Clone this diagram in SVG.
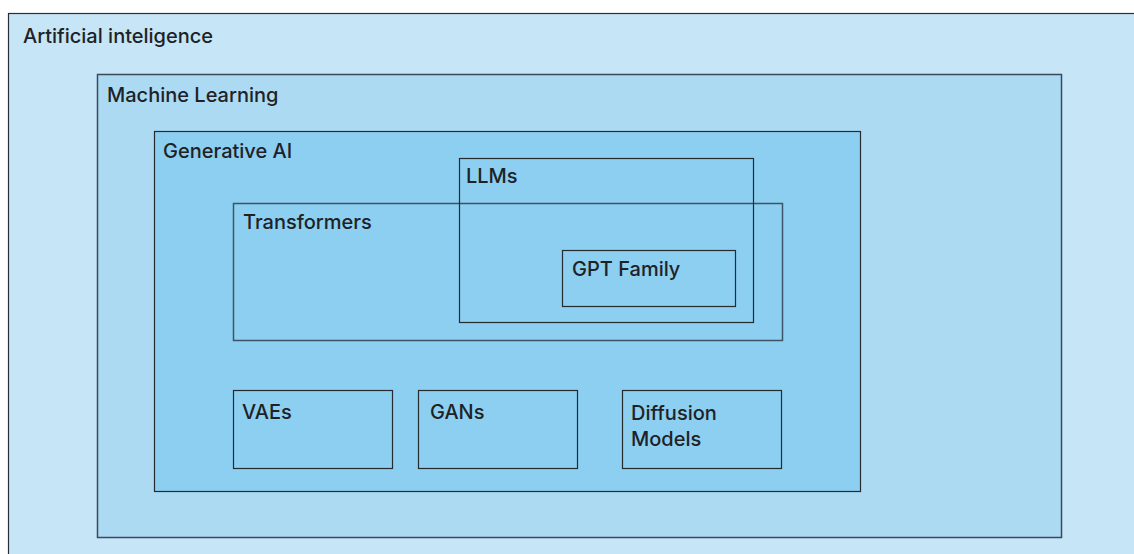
<svg xmlns="http://www.w3.org/2000/svg" width="1134" height="554" viewBox="0 0 1134 554">
<style>
text{font-family:Inter,"Liberation Sans",Arial,sans-serif;font-size:20px;font-weight:500;fill:#1f2225}
.b{fill:none;stroke:#262b30;stroke-width:1.2}
</style>
<rect width="1134" height="554" fill="#ffffff"/>
<g id="ai">
<rect x="8.5" y="13.5" width="1140" height="560" fill="#c6e5f7" stroke="#2a2f35" stroke-width="1.2"/>
<text x="23" y="43">Artificial inteligence</text>
</g>
<g id="ml">
<rect x="97.5" y="74.5" width="964" height="463" fill="#acdaf3" stroke="#3a4a58" stroke-width="1.5"/>
<text x="107" y="102">Machine Learning</text>
</g>
<g id="genai">
<rect x="154.5" y="131.5" width="706" height="360" fill="#8ccff1" stroke="#262b30" stroke-width="1.2"/>
<text x="163" y="158">Generative AI</text>
</g>
<g id="transformers">
<rect x="233.5" y="203.5" width="549" height="137" fill="none" stroke="#3d5366" stroke-width="1.5"/>
<text x="243" y="229">Transformers</text>
</g>
<g id="llms">
<rect x="459.5" y="158.5" width="294" height="164" class="b"/>
<text x="466" y="183">LLMs</text>
</g>
<g id="gpt">
<rect x="562.5" y="250.5" width="173" height="56" class="b"/>
<text x="572" y="276">GPT Family</text>
</g>
<g id="vaes">
<rect x="233.5" y="390.5" width="159" height="78" class="b"/>
<text x="242" y="419">VAEs</text>
</g>
<g id="gans">
<rect x="418.5" y="390.5" width="159" height="78" class="b"/>
<text x="430" y="419">GANs</text>
</g>
<g id="diffusion">
<rect x="622.5" y="390.5" width="159" height="78" class="b"/>
<text x="631" y="420">Diffusion</text>
<text x="631" y="446">Models</text>
</g>
<g id="connectors"></g>
</svg>
